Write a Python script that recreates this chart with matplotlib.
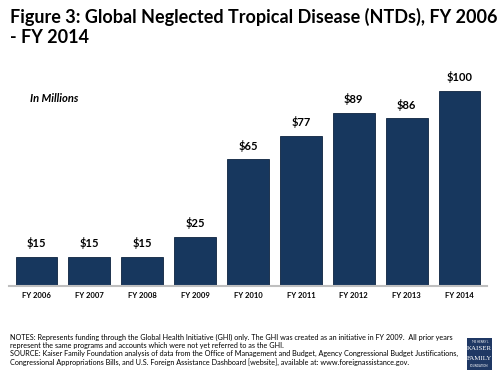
import matplotlib
matplotlib.use("Agg")
import matplotlib.pyplot as plt
from matplotlib.patches import Rectangle

years = ["FY 2006", "FY 2007", "FY 2008", "FY 2009", "FY 2010", "FY 2011", "FY 2012", "FY 2013", "FY 2014"]
values = [15, 15, 15, 25, 65, 77, 89, 86, 100]
labels = ["$15", "$15", "$15", "$25", "$65", "$77", "$89", "$86", "$100"]

navy = "#17375e"
plt.rcParams['font.family'] = ['Lato', 'DejaVu Sans']

fig = plt.figure(figsize=(5, 3.76), dpi=100)
ax = fig.add_axes([9/500, (376-286)/376, 478/500, 0.57])
x = list(range(len(years)))
ax.bar(x, values, width=0.79, color=navy, edgecolor="#0d2340", linewidth=0.6, zorder=2)
ax.set_xlim(-0.52, len(years) - 0.48)
ax.set_ylim(0, 110)
for xi, v, lab in zip(x, values, labels):
    ax.text(xi, v + 4, lab, ha="center", va="bottom", fontsize=8, fontweight="bold", color="black")
ax.set_xticks(x)
ax.set_xticklabels(years, fontsize=5.5, fontweight="bold")
ax.tick_params(axis="x", length=0, pad=4)
ax.set_yticks([])
for s in ["top", "right", "left"]:
    ax.spines[s].set_visible(False)
ax.spines["bottom"].set_color("#bfbfbf")
ax.spines["bottom"].set_linewidth(1.5)

fig.text(10/500, 1 - 8/376, "Figure 3: Global Neglected Tropical Disease (NTDs), FY 2006\n- FY 2014",
         ha="left", va="top", fontsize=13, fontweight="bold", linespacing=1.2)
fig.text(30/500, 1 - 98/376, "In Millions", ha="left", va="center", fontsize=8,
         fontweight="bold", style="italic")

notes = ("NOTES: Represents funding through the Global Health Initiative (GHI) only. The GHI was created as an initiative in FY 2009.  All prior years\n"
         "represent the same programs and accounts which were not yet referred to as the GHI.\n"
         "SOURCE: Kaiser Family Foundation analysis of data from the Office of Management and Budget, Agency Congressional Budget Justifications,\n"
         "Congressional Appropriations Bills, and U.S. Foreign Assistance Dashboard [website], available at: www.foreignassistance.gov.")
fig.text(10/500, 1 - 334/376, notes, ha="left", va="top", fontsize=5.2, linespacing=1.18)

fig.patches.append(Rectangle((467/500, 1 - 370/376), 25/500, 32/376, transform=fig.transFigure,
                             facecolor="#1f3864", edgecolor="none"))
fig.text(479.5/500, 1 - 342/376, "THE HENRY J.", ha="center", va="center", fontsize=2, color="white")
fig.text(479.5/500, 1 - 349/376, "KAISER", ha="center", va="center", fontsize=5, color="white",
         family="Liberation Serif")
fig.text(479.5/500, 1 - 358/376, "FAMILY", ha="center", va="center", fontsize=5, color="white",
         family="Liberation Serif")
fig.text(479.5/500, 1 - 366/376, "FOUNDATION", ha="center", va="center", fontsize=2, color="white")

fig.savefig("out.png", dpi=100)
